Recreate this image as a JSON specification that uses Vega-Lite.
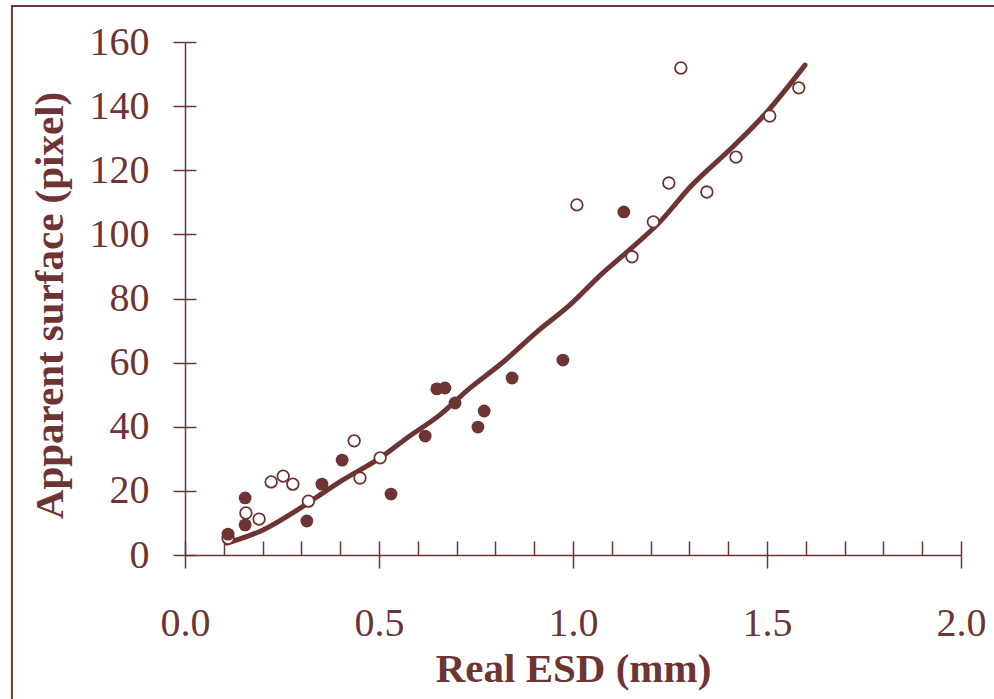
{
  "$schema": "https://vega.github.io/schema/vega-lite/v6.json",
  "autosize": {"type": "none"},
  "width": 776,
  "height": 513,
  "padding": {"left": 185, "top": 42, "right": 33, "bottom": 144},
  "background": "white",
  "config": {
    "view": {"stroke": null},
    "axis": {
      "domainColor": "#6e3434",
      "tickColor": "#6e3434",
      "labelColor": "#6e3434",
      "titleColor": "#6e3434",
      "labelFont": "Liberation Serif",
      "titleFont": "Liberation Serif",
      "labelFontSize": 40,
      "titleFontSize": 41,
      "titleFontWeight": "bold",
      "grid": false,
      "domainWidth": 1.5,
      "tickWidth": 1.5
    }
  },
  "datasets": {
    "points": [
      {"esd": 0.111, "surface": 5.2, "kind": "open"},
      {"esd": 0.157, "surface": 13.1, "kind": "open"},
      {"esd": 0.191, "surface": 11.2, "kind": "open"},
      {"esd": 0.222, "surface": 22.8, "kind": "open"},
      {"esd": 0.253, "surface": 24.6, "kind": "open"},
      {"esd": 0.278, "surface": 22.1, "kind": "open"},
      {"esd": 0.318, "surface": 16.8, "kind": "open"},
      {"esd": 0.436, "surface": 35.6, "kind": "open"},
      {"esd": 0.451, "surface": 24.0, "kind": "open"},
      {"esd": 0.503, "surface": 30.3, "kind": "open"},
      {"esd": 1.010, "surface": 109.2, "kind": "open"},
      {"esd": 1.152, "surface": 93.0, "kind": "open"},
      {"esd": 1.207, "surface": 103.9, "kind": "open"},
      {"esd": 1.247, "surface": 116.0, "kind": "open"},
      {"esd": 1.278, "surface": 151.9, "kind": "open"},
      {"esd": 1.345, "surface": 113.2, "kind": "open"},
      {"esd": 1.420, "surface": 124.1, "kind": "open"},
      {"esd": 1.507, "surface": 136.9, "kind": "open"},
      {"esd": 1.582, "surface": 145.7, "kind": "open"},
      {"esd": 0.111, "surface": 6.5, "kind": "filled"},
      {"esd": 0.155, "surface": 17.8, "kind": "filled"},
      {"esd": 0.155, "surface": 9.4, "kind": "filled"},
      {"esd": 0.314, "surface": 10.6, "kind": "filled"},
      {"esd": 0.353, "surface": 22.1, "kind": "filled"},
      {"esd": 0.405, "surface": 29.6, "kind": "filled"},
      {"esd": 0.531, "surface": 19.0, "kind": "filled"},
      {"esd": 0.619, "surface": 37.1, "kind": "filled"},
      {"esd": 0.649, "surface": 51.8, "kind": "filled"},
      {"esd": 0.670, "surface": 52.1, "kind": "filled"},
      {"esd": 0.696, "surface": 47.4, "kind": "filled"},
      {"esd": 0.755, "surface": 39.9, "kind": "filled"},
      {"esd": 0.771, "surface": 44.9, "kind": "filled"},
      {"esd": 0.843, "surface": 55.2, "kind": "filled"},
      {"esd": 0.974, "surface": 60.8, "kind": "filled"},
      {"esd": 1.131, "surface": 107.0, "kind": "filled"}
    ],
    "curve": [
      {"esd": 0.108, "surface": 3.7},
      {"esd": 0.201, "surface": 7.8},
      {"esd": 0.289, "surface": 14.0},
      {"esd": 0.340, "surface": 18.1},
      {"esd": 0.407, "surface": 23.4},
      {"esd": 0.503, "surface": 30.3},
      {"esd": 0.572, "surface": 36.5},
      {"esd": 0.657, "surface": 43.7},
      {"esd": 0.735, "surface": 52.1},
      {"esd": 0.820, "surface": 60.2},
      {"esd": 0.907, "surface": 69.6},
      {"esd": 0.992, "surface": 78.0},
      {"esd": 1.077, "surface": 88.0},
      {"esd": 1.139, "surface": 94.5},
      {"esd": 1.224, "surface": 103.9},
      {"esd": 1.302, "surface": 114.8},
      {"esd": 1.412, "surface": 127.3},
      {"esd": 1.500, "surface": 138.2},
      {"esd": 1.598, "surface": 152.8}
    ],
    "frame": [{"x1": -0.446, "x2": 2.3, "y1": 171.2, "y2": -70}]
  },
  "resolve": {"axis": {"x": "independent", "y": "independent"}},
  "layer": [
    {
      "data": {"name": "frame"},
      "mark": {"type": "rect", "fill": null, "stroke": "#6e3434", "strokeWidth": 2, "clip": false},
      "encoding": {
        "x": {"field": "x1", "type": "quantitative", "scale": {"domain": [0, 2], "nice": false, "zero": false}, "axis": null},
        "x2": {"field": "x2"},
        "y": {"field": "y1", "type": "quantitative", "scale": {"domain": [0, 160], "nice": false}, "axis": null},
        "y2": {"field": "y2"}
      }
    },
    {
      "data": {"name": "curve"},
      "mark": {"type": "line", "color": "#6e3434", "strokeWidth": 5, "interpolate": "monotone", "strokeCap": "round"},
      "encoding": {
        "x": {
          "field": "esd", "type": "quantitative",
          "scale": {"domain": [0, 2], "nice": false, "zero": false},
          "axis": {
            "orient": "bottom",
            "title": "Real ESD (mm)",
            "values": [0, 0.5, 1, 1.5, 2],
            "format": ".1f",
            "tickSize": 13,
            "labelPadding": 35,
            "titlePadding": 6,
            "labelFlush": false,
            "labelOverlap": false
          }
        },
        "y": {
          "field": "surface", "type": "quantitative",
          "scale": {"domain": [0, 160], "nice": false},
          "axis": {
            "orient": "left",
            "title": "Apparent surface (pixel)",
            "values": [0, 20, 40, 60, 80, 100, 120, 140, 160],
            "tickSize": 12,
            "labelPadding": 24,
            "titlePadding": 18,
            "titleY": 263,
            "labelFlush": false,
            "labelOverlap": false
          }
        }
      }
    },
    {
      "data": {"name": "points"},
      "transform": [{"filter": "datum.kind === 'open'"}],
      "mark": {"type": "point", "shape": "circle", "filled": false, "fill": "white", "stroke": "#6e3434", "strokeWidth": 1.8, "size": 135, "opacity": 1},
      "encoding": {
        "x": {
          "field": "esd", "type": "quantitative",
          "scale": {"domain": [0, 2], "nice": false, "zero": false},
          "axis": {
            "orient": "bottom",
            "title": null,
            "values": [0, 0.1, 0.2, 0.3, 0.4, 0.5, 0.6, 0.7, 0.8, 0.9, 1, 1.1, 1.2, 1.3, 1.4, 1.5, 1.6, 1.7, 1.8, 1.9, 2],
            "labels": false,
            "domain": false,
            "tickSize": -14
          }
        },
        "y": {
          "field": "surface", "type": "quantitative",
          "scale": {"domain": [0, 160], "nice": false},
          "axis": {
            "orient": "left",
            "title": null,
            "values": [0, 20, 40, 60, 80, 100, 120, 140, 160],
            "labels": false,
            "domain": false,
            "tickSize": -11
          }
        }
      }
    },
    {
      "data": {"name": "points"},
      "transform": [{"filter": "datum.kind === 'filled'"}],
      "mark": {"type": "point", "shape": "circle", "filled": true, "color": "#6e3434", "size": 165, "opacity": 1},
      "encoding": {
        "x": {"field": "esd", "type": "quantitative", "scale": {"domain": [0, 2], "nice": false, "zero": false}, "axis": null},
        "y": {"field": "surface", "type": "quantitative", "scale": {"domain": [0, 160], "nice": false}, "axis": null}
      }
    }
  ]
}
